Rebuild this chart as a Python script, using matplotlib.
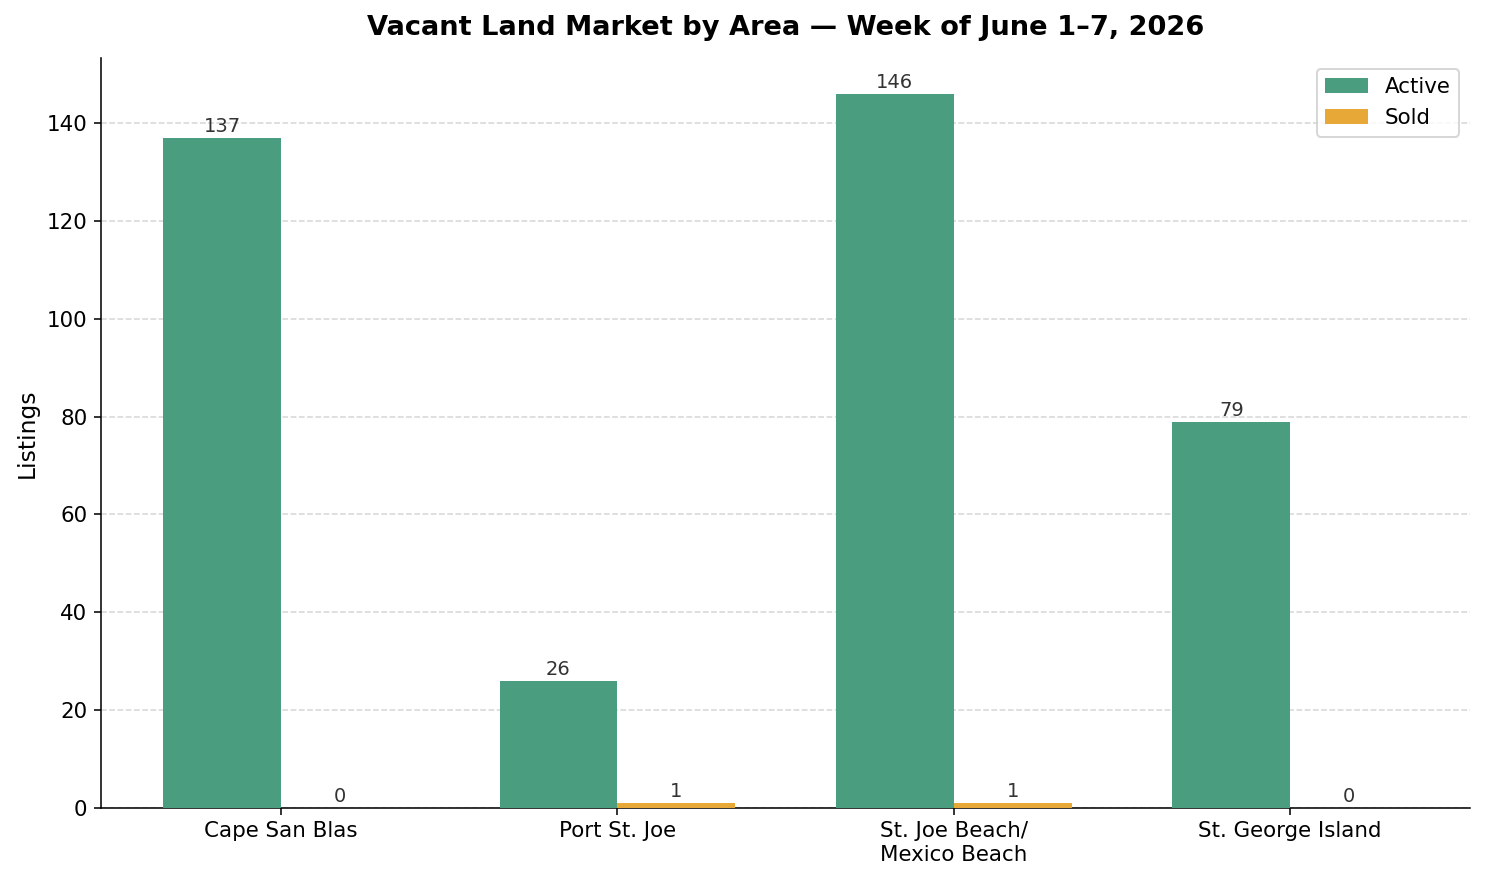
import numpy as np
import matplotlib.pyplot as plt

areas = ['Cape San Blas', 'Port St. Joe', 'St. Joe Beach/\nMexico Beach', 'St. George Island']
active = [137, 26, 146, 79]
sold = [0, 1, 1, 0]

x = np.arange(len(areas))
w = 0.35

dpi = 140
fig, ax = plt.subplots(figsize=(1485 / dpi, 881 / dpi), dpi=dpi)
fig.subplots_adjust(left=0.068, right=0.99, top=0.934, bottom=0.083)

b1 = ax.bar(x - w/2, active, w, color='#4a9d7f', label='Active', zorder=3)
b2 = ax.bar(x + w/2, sold, w, color='#e8a838', label='Sold', zorder=3)

for bars in (b1, b2):
    for b in bars:
        h = b.get_height()
        ax.annotate(f'{int(h)}', (b.get_x() + b.get_width()/2, h),
                    xytext=(0, 1), textcoords='offset points',
                    ha='center', va='bottom', fontsize=10, color='#333333')

ax.set_xticks(x)
ax.set_xticklabels(areas, fontsize=11)
ax.tick_params(axis='y', labelsize=11)
ax.set_ylabel('Listings', fontsize=12)
ax.set_title('Vacant Land Market by Area \u2014 Week of June 1\u20137, 2026',
             fontsize=14, fontweight='bold', pad=12)
ax.set_ylim(0, max(active) * 1.05)
ax.yaxis.grid(True, linestyle='--', color='#cccccc', alpha=0.8, zorder=0)
ax.spines['top'].set_visible(False)
ax.spines['right'].set_visible(False)
ax.legend(fontsize=11, loc='upper right')

plt.savefig('out.png', dpi=dpi)
